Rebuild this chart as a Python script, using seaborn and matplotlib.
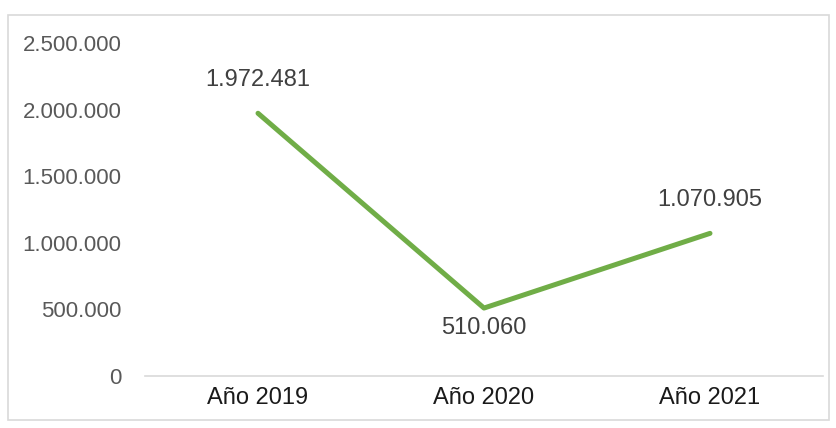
import matplotlib.pyplot as plt
import pandas as pd
import seaborn as sns
from matplotlib.patches import Rectangle

years = ["Año 2019", "Año 2020", "Año 2021"]
values = [1972481, 510060, 1070905]
label_pos = ["above", "below", "above"]
y_ticks = [0, 500000, 1000000, 1500000, 2000000, 2500000]


def fmt_es(v):
    return f"{v:,.0f}".replace(",", ".")


sns.set_theme(style="white")
plt.rcParams["font.family"] = ["Liberation Sans", "DejaVu Sans"]

df = pd.DataFrame({"year": years, "value": values, "x": range(len(years))})

fig = plt.figure(figsize=(8.37, 4.28), dpi=100)
fig.patches.append(Rectangle((8 / 837, 8 / 428), 821 / 837, 405 / 428,
                             transform=fig.transFigure, fill=False,
                             edgecolor="#d9d9d9", linewidth=1.2))
ax = fig.add_axes([145 / 837, 52 / 428, 678 / 837, 333 / 428])

sns.lineplot(data=df, x="x", y="value", ax=ax, color="#70ad47",
             linewidth=3.6, solid_capstyle="round")

for i, (v, pos) in enumerate(zip(values, label_pos)):
    dy = 24 if pos == "above" else -14
    ax.annotate(fmt_es(v), (i, v), xytext=(0, dy), textcoords="offset points",
                ha="center", va="center", fontsize=17, color="#404040")

ax.set_xlim(-0.5, 2.5)
ax.set_ylim(0, 2500000)
ax.set_xticks(range(len(years)))
ax.set_xticklabels(years, fontsize=17, color="#1a1a1a")
ax.set_yticks(y_ticks)
ax.set_yticklabels([fmt_es(t) for t in y_ticks], fontsize=16, color="#595959")
ax.tick_params(axis="x", length=0, pad=8)
ax.tick_params(axis="y", length=0, pad=17)
ax.set_xlabel("")
ax.set_ylabel("")
for side in ["top", "right", "left"]:
    ax.spines[side].set_visible(False)
ax.spines["bottom"].set_color("#d9d9d9")
ax.spines["bottom"].set_linewidth(1.2)

fig.savefig("out.png", dpi=100)
